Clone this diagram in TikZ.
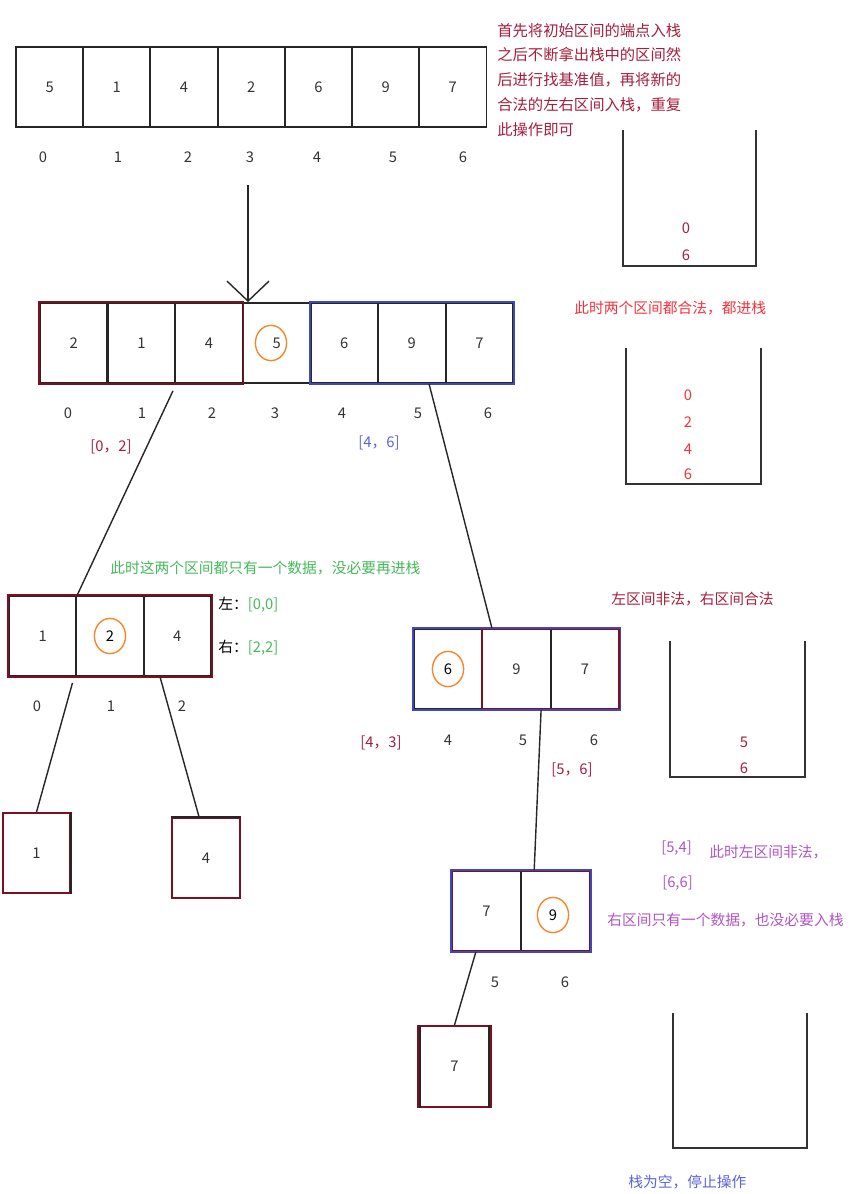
\documentclass[tikz,border=0pt]{standalone}
\usepackage{fontspec}
\setmainfont{Noto Sans CJK SC}
\usepackage{tikz}
\usetikzlibrary{arrows.meta, positioning, shapes, calc}
\definecolor{BoxRed}{RGB}{125, 15, 35}
\definecolor{BoxBlue}{RGB}{65, 72, 190}
\definecolor{NoteRed}{RGB}{165, 30, 60}
\definecolor{BrightRed}{RGB}{245, 50, 60}
\definecolor{LabelBlue}{RGB}{90, 100, 220}
\definecolor{NoteGreen}{RGB}{70, 185, 90}
\definecolor{NotePurple}{RGB}{175, 85, 195}
\definecolor{PivOrange}{RGB}{245, 135, 45}

\begin{document}
\begin{tikzpicture}[x=0.025cm, y=-0.025cm, font=\fontsize{10.5}{12}\selectfont, cell/.style={draw=black!85, line width=1.3pt, minimum width=1.68cm, minimum height=2cm, inner sep=0pt, text=black!80},
  idx/.style={text=black!80, inner sep=1pt}, piv/.style={draw=PivOrange, ellipse, line width=1pt, minimum width=0.78cm, minimum height=0.88cm, inner sep=0pt},
  note/.style={anchor=west, inner sep=0pt}, link/.style={black!85, line width=1pt}, stk/.style={black!80, line width=1.2pt},
  redbox/.style={draw=BoxRed, line width=1.3pt}, bluebox/.style={draw=BoxBlue, line width=1.3pt}]
\useasboundingbox (0,0) rectangle (849,1194);
% first array
\node[cell] (a0) at (49.6,87) {5};
\node[cell] (a1) at (116.8,87) {1};
\node[cell] (a2) at (184,87) {4};
\node[cell] (a3) at (251.2,87) {2};
\node[cell] (a4) at (318.4,87) {6};
\node[cell] (a5) at (385.6,87) {9};
\node[cell] (a6) at (452.8,87) {7};
\node[idx] (ia0) at (43,157) {0}; \node[idx] (ia1) at (118,157) {1}; \node[idx] (ia2) at (188,157) {2}; \node[idx] (ia3) at (250,157) {3};
\node[idx] (ia4) at (317,157) {4}; \node[idx] (ia5) at (393,157) {5}; \node[idx] (ia6) at (463,157) {6};
\node[note, anchor=north west, align=left, text=NoteRed, font=\fontsize{10.9}{17.6}\selectfont] (n0) at (497,23) {首先将初始区间的端点入栈\\之后不断拿出栈中的区间然\\后进行找基准值，再将新的\\合法的左右区间入栈，重复\\此操作即可};
% after first partition
\node[cell] (b0) at (73.8,343) {2};
\node[cell] (b1) at (141.4,343) {1};
\node[cell] (b2) at (209,343) {4};
\node[cell] (b3) at (276.6,343) {5};
\node[cell] (b4) at (344.2,343) {6};
\node[cell] (b5) at (411.8,343) {9};
\node[cell] (b6) at (479.4,343) {7};
\node[piv] (p5) at (271,343) {};
\draw[redbox] (b0.north west) rectangle (b2.south east);
\draw[bluebox] (b4.north west) rectangle (b6.south east);
\node[idx] (ib0) at (68,413) {0}; \node[idx] (ib1) at (142,413) {1}; \node[idx] (ib2) at (212,413) {2}; \node[idx] (ib3) at (275,413) {3};
\node[idx] (ib4) at (342,413) {4}; \node[idx] (ib5) at (418,413) {5}; \node[idx] (ib6) at (488,413) {6};
\node[text=NoteRed] (lb) at (111,447) {[0，2]};
\node[text=LabelBlue] (rb) at (379,443) {[4，6]};
\node[note, text=BrightRed] (n1) at (574,308) {此时两个区间都合法，都进栈};
\coordinate (top) at (248,185);
\draw[link, -{Straight Barb[length=5mm, width=10.5mm]}] (top) -- (top |- b3.north);
% left part
\node[cell] (c0) at (42.7,636) {1};
\node[cell] (c1) at (110,636) {};
\node[cell] (c2) at (177.3,636) {4};
\node[piv] (p2) at (c1) {2};
\draw[redbox] (c0.north west) rectangle (c2.south east);
\node[idx] (ic0) at (37,706) {0}; \node[idx] (ic1) at (111,706) {1}; \node[idx] (ic2) at (182,706) {2};
\node[note, text=NoteGreen] (n2) at (110,568) {此时这两个区间都只有一个数据，没必要再进栈};
\node[note] (ll) at (218,605) {左：\textcolor{NoteGreen}{[0,0]}};
\node[note] (lr) at (218,648) {右：\textcolor{NoteGreen}{[2,2]}};
\node[cell, draw=BoxRed] (e0) at (36.5,853) {1};
\draw[black!85, line width=1.3pt] (e0.north east) -- (e0.south east);
\node[cell, draw=BoxRed] (e1) at (206,858) {4};
\draw[black!85, line width=1.3pt] (e1.north west) -- (e1.north east);
% right part
\node[cell, minimum width=1.71cm] (d0) at (448,669) {};
\node[cell, minimum width=1.71cm] (d1) at (516.5,669) {9};
\node[cell, minimum width=1.71cm] (d2) at (585,669) {7};
\node[piv] (p6) at (d0) {6};
\draw[bluebox] (d0.north west) rectangle (d2.south east);
\draw[redbox] ($(d1.north west)+(1,1.5)$) rectangle ($(d2.south east)+(-1.5,-1.5)$);
\node[idx] (id0) at (448,740) {4}; \node[idx] (id1) at (523,740) {5}; \node[idx] (id2) at (594,740) {6};
\node[text=NoteRed] (lb2) at (381,743) {[4，3]};
\node[text=NoteRed] (rb2) at (572,770) {[5，6]};
\node[note, text=NoteRed] (n3) at (611,599) {左区间非法，右区间合法};
\node[cell, minimum width=1.73cm] (f0) at (486.5,911) {7};
\node[cell, minimum width=1.73cm] (f1) at (555.5,911) {};
\node[piv] (p9) at (553,915) {9};
\draw[bluebox] (f0.north west) rectangle (f1.south east);
\draw[redbox] ($(f0.north west)+(1.5,1.5)$) rectangle ($(f1.south east)+(-1.5,-1.5)$);
\node[idx] (if0) at (495,982) {5}; \node[idx] (if1) at (565,982) {6};
\node[note, text=NotePurple] (m0) at (661,848) {[5,4]};
\node[note, text=NotePurple] (m1) at (709,852) {此时左区间非法，};
\node[note, text=NotePurple] (m2) at (662,883) {[6,6]};
\node[note, text=NotePurple] (m3) at (607,920) {右区间只有一个数据，也没必要入栈};
\node[cell, draw=BoxRed, minimum width=1.83cm, minimum height=2.03cm] (g0) at (454.5,1066.5) {7};
\draw[black!85, line width=1.3pt] ($(g0.north west)+(3,0)$) -- ($(g0.south west)+(3,0)$) ($(g0.north east)+(-3,0)$) -- ($(g0.south east)+(-3,0)$);
% stacks
\draw[stk] (623,130) |- (756,266) -- (756,130);
\node[idx, text=NoteRed] (s1a) at (686,228) {0};
\node[idx, text=NoteRed] (s1b) at (686,255) {6};
\draw[stk] (626,348) |- (761,484) -- (761,348);
\node[idx, text=BrightRed] (s2a) at (688,395) {0};
\node[idx, text=BrightRed] (s2b) at (688,422) {2};
\node[idx, text=BrightRed] (s2c) at (688,449) {4};
\node[idx, text=BrightRed] (s2d) at (688,474) {6};
\draw[stk] (670,641) |- (805,777) -- (805,641);
\node[idx, text=NoteRed] (s3a) at (744,742) {5};
\node[idx, text=NoteRed] (s3b) at (744,768) {6};
\draw[stk] (673,1013) |- (807,1148) -- (807,1013);
\node[note, text=LabelBlue] (n4) at (628,1182) {栈为空，停止操作};
% links
\draw[link] ($(b1.south east)+(-3,7)$) -- (c0.north east);
\draw[link] ($(b5.south)!0.5!(b5.south east)$) -- ($(d1.north west)!0.15!(d1.north east)$);
\draw[link] ($(c1.south west)+(-3,6)$) -- (e0.north);
\draw[link] ($(c2.south west)!0.25!(c2.south east)$) -- ($(e1.north)!0.2!(e1.north west)$);
\draw[link] ($(d1.south)!0.7!(d1.south east)$) -- ($(f1.north west)!0.2!(f1.north east)$);
\draw[link] ($(f0.south)!0.3!(f0.south west)$) -- (g0.north);
\end{tikzpicture}
\end{document}
